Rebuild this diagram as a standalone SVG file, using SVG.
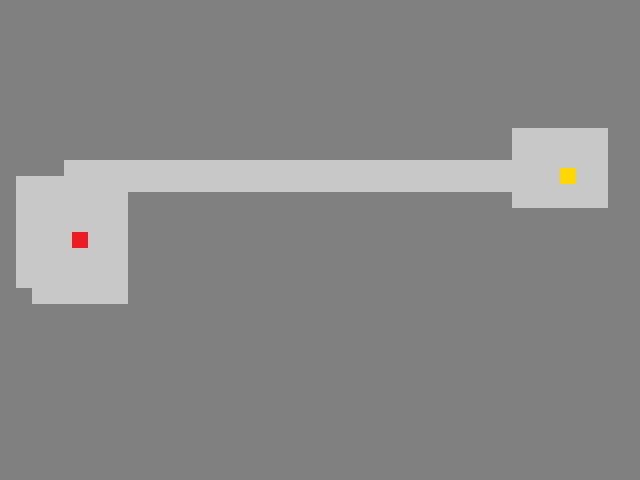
<svg xmlns="http://www.w3.org/2000/svg" width="640" height="480" viewBox="0 0 640 480">
<style>.floor{fill:#c8c8c8}</style>
<rect width="640" height="480" fill="#808080"/>
<g id="floor">
<rect class="floor" x="16" y="176" width="112" height="112"/>
<rect class="floor" x="32" y="288" width="96" height="16"/>
<rect class="floor" x="64" y="160" width="448" height="32"/>
<rect class="floor" x="512" y="128" width="96" height="80"/>
</g>
<rect id="start" x="72" y="232" width="16" height="16" fill="#ed1c24"/>
<rect id="goal" x="560" y="168" width="16" height="16" fill="#ffd700"/>
</svg>
